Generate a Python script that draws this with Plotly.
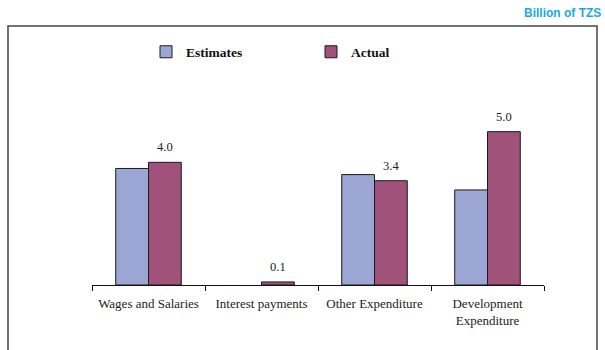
import plotly.graph_objects as go

categories = ["Wages and Salaries", "Interest payments", "Other Expenditure", "Development<br>Expenditure"]
estimates = [3.8, None, 3.6, 3.1]
actual = [4.0, 0.1, 3.4, 5.0]
actual_labels = ["4.0", "0.1", "3.4", "5.0"]

W, H = 605, 350
L, R, T, B = 92, 61, 101, 65
pw, ph = W - L - R, H - T - B
BARGAP = 0.42

def px_x(p):
    return (p - L) / pw

def px_y(p):
    return (H - B - p) / ph

serif = "Liberation Serif, Times New Roman, serif"

fig = go.Figure()
fig.add_trace(go.Bar(
    name="Estimates", x=categories, y=estimates,
    marker=dict(color="#9BA6D4", line=dict(color="#1a1a1a", width=1)),
))
fig.add_trace(go.Bar(
    name="Actual", x=categories, y=actual,
    marker=dict(color="#A0527A", line=dict(color="#1a1a1a", width=1)),
))

# data labels above Actual bars
cat_px = pw / len(categories)
bar_px = cat_px * (1 - BARGAP) / 2
annotations = []
for c, v, t in zip(categories, actual, actual_labels):
    annotations.append(dict(
        x=c, y=v, xref="x", yref="y", text=t, showarrow=False,
        xanchor="center", yanchor="bottom", xshift=bar_px / 2, yshift=6,
        font=dict(family=serif, size=12.5, color="#222"),
    ))
annotations.append(dict(
    text="Billion of TZS", xref="paper", yref="paper",
    x=px_x(603), y=px_y(13), xanchor="right", yanchor="middle",
    showarrow=False,
    font=dict(family="Liberation Sans, Arial, sans-serif", size=12, color="#1CA7E6", weight="bold"),
))

fig.update_layout(
    width=W, height=H,
    margin=dict(l=L, r=R, t=T, b=B, autoexpand=False),
    paper_bgcolor="white", plot_bgcolor="white",
    barmode="group", bargap=BARGAP, bargroupgap=0,
    font=dict(family=serif, size=11, color="#222"),
    showlegend=True,
    legend=dict(
        orientation="h", x=px_x(146), y=px_y(52), xanchor="left", yanchor="middle",
        font=dict(family=serif, size=13.5, color="#111", weight="bold"),
        entrywidth=120, itemwidth=30, bgcolor="rgba(0,0,0,0)",
    ),
    xaxis=dict(
        showline=True, linecolor="#111", linewidth=1,
        ticks="outside", tickson="boundaries", ticklen=5, tickcolor="#111",
        tickfont=dict(family=serif, size=13, color="#222"),
        tickangle=0, automargin=False,
        ticklabelstandoff=6,
        showgrid=False, zeroline=False,
    ),
    yaxis=dict(range=[0, 6.0], visible=False, showgrid=False, zeroline=False, automargin=False),
    shapes=[dict(
        type="rect", xref="paper", yref="paper",
        x0=px_x(8), x1=px_x(597), y0=px_y(362), y1=px_y(26),
        line=dict(color="#444", width=1.5), fillcolor="rgba(0,0,0,0)", layer="below",
    )],
    annotations=annotations,
)

fig.write_html("out.html")
